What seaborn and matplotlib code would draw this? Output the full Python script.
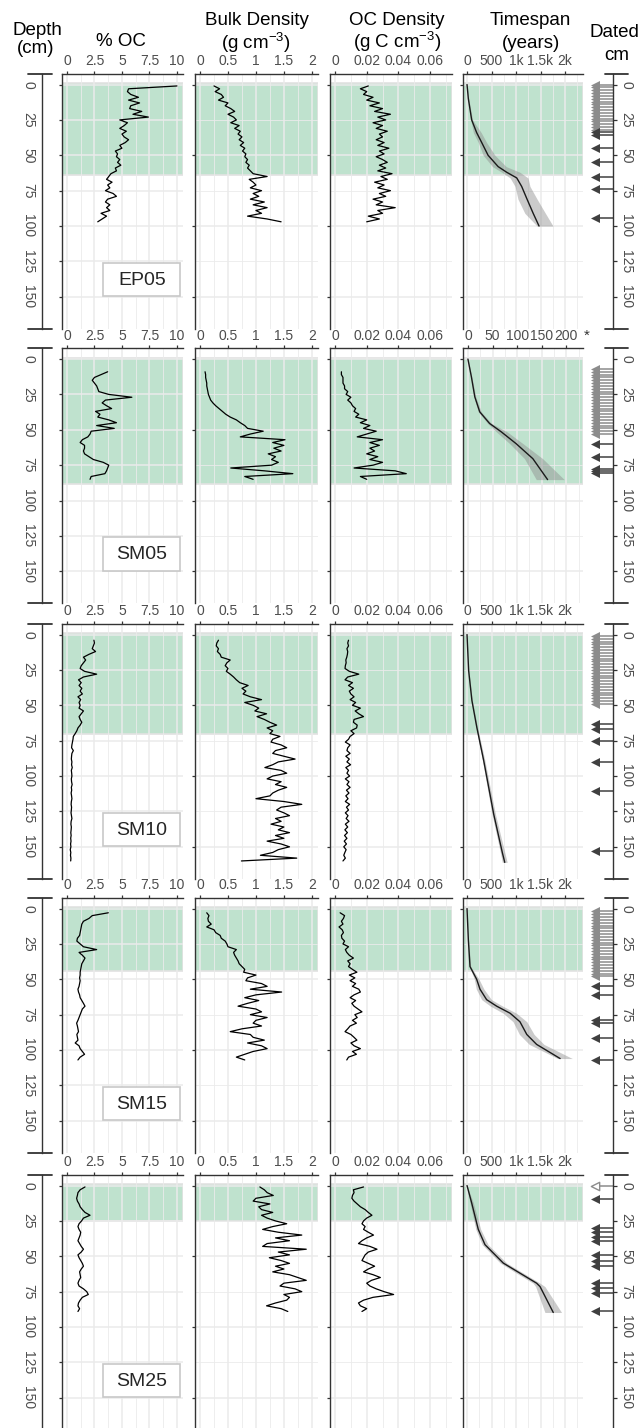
import matplotlib
matplotlib.use("Agg")
import matplotlib.pyplot as plt
from matplotlib.patches import Rectangle
import seaborn as sns

# ---------------- data ----------------
# depth sampling grids (cm)
EP05_DEPTH = list(range(1, 98, 2))
SM05_DEPTH = list(range(9, 86, 2))
SM10_DEPTH = list(range(4, 161, 2))
SM15_DEPTH = list(range(3, 108, 2))
SM25_DEPTH = list(range(1, 90, 2))

# % OC
EP05_OC = [10.0, 5.6, 5.5, 5.8, 6.5, 5.6, 6.6, 5.8, 5.7, 6.8,
           6.0, 7.4, 4.8, 5.5, 5.2, 4.8, 5.4, 5.0, 5.2, 5.6,
           5.3, 4.8, 5.0, 4.4, 4.6, 4.5, 4.8, 4.6, 4.9, 4.4,
           4.5, 4.0, 3.8, 3.6, 4.1, 3.7, 3.9, 3.5, 4.2, 4.5,
           3.7, 3.5, 3.9, 3.6, 3.9, 3.1, 3.6, 3.2, 2.8]
SM05_OC = [3.7, 3.1, 2.5, 2.3, 2.5, 2.7, 2.8, 2.9, 3.8, 5.9,
           3.5, 3.2, 3.6, 4.06, 2.6, 3.0, 2.8, 3.8, 4.5, 2.7,
           4.3, 2.2, 2.1, 1.9, 1.4, 1.2, 1.6, 1.6, 1.5, 1.6,
           2.0, 2.4, 3.3, 3.8, 3.7, 3.6, 3.45, 2.2, 2.1]
SM10_OC = [2.45, 2.5, 2.4, 2.3, 2.6, 2.0, 1.5, 1.7, 1.5, 1.3,
           1.2, 1.6, 2.7, 1.5, 1.05, 1.3, 1.1, 1.35, 1.2, 1.4,
           1.0, 1.25, 1.1, 1.2, 1.1, 1.5, 1.3, 1.1, 1.2, 1.35,
           1.2, 1.0, 0.9, 0.75, 0.58, 0.55, 0.5, 0.45, 0.42, 0.58,
           0.45, 0.42, 0.4, 0.45, 0.42, 0.48, 0.4, 0.43, 0.45, 0.4,
           0.42, 0.47, 0.4, 0.43, 0.38, 0.42, 0.45, 0.4, 0.38, 0.42,
           0.4, 0.37, 0.41, 0.45, 0.38, 0.36, 0.4, 0.38, 0.35, 0.38,
           0.34, 0.37, 0.33, 0.36, 0.3, 0.35, 0.32, 0.36, 0.34]
SM15_OC = [3.76, 2.3, 2.0, 1.5, 1.35, 1.3, 1.25, 1.2, 1.15, 0.95,
           0.9, 1.2, 1.5, 2.7, 1.1, 1.4, 1.64, 1.5, 1.35, 1.3,
           1.25, 1.2, 1.2, 1.15, 1.2, 1.15, 1.1, 1.0, 1.05, 1.15,
           1.2, 1.35, 1.5, 1.64, 1.4, 1.3, 1.2, 1.1, 1.0, 0.88,
           0.95, 1.0, 1.05, 0.9, 0.95, 1.0, 0.75, 1.1, 1.2, 1.4,
           1.6, 1.2, 1.0]
SM25_OC = [1.64, 1.2, 1.0, 0.95, 0.88, 0.95, 1.1, 1.2, 1.4, 1.64,
           2.1, 1.5, 1.33, 1.1, 1.0, 1.1, 1.25, 1.2, 1.1, 1.0,
           1.15, 1.3, 1.5, 1.3, 1.0, 1.1, 1.25, 1.4, 1.5, 1.3,
           1.15, 1.2, 1.25, 1.1, 1.0, 1.1, 1.5, 1.8, 1.94, 1.4,
           1.2, 1.05, 1.0, 1.15, 1.0]

# bulk density (g cm-3)
EP05_BD = [0.25, 0.35, 0.27, 0.38, 0.42, 0.33, 0.5, 0.45, 0.55, 0.62,
           0.5, 0.6, 0.65, 0.55, 0.7, 0.62, 0.72, 0.68, 0.75, 0.7,
           0.78, 0.72, 0.8, 0.76, 0.82, 0.8, 0.85, 0.82, 0.88, 0.85,
           0.9, 0.95, 1.2, 0.88, 0.95, 1.0, 0.9, 1.1, 0.95, 1.05,
           0.9, 1.15, 0.95, 1.2, 1.0, 1.1, 0.85, 1.2, 1.45]
SM05_BD = [0.09, 0.1, 0.1, 0.11, 0.12, 0.12, 0.13, 0.14, 0.15, 0.17,
           0.19, 0.23, 0.28, 0.34, 0.4, 0.46, 0.54, 0.65, 0.72, 0.8,
           0.85, 1.13, 0.9, 0.72, 1.52, 1.3, 1.5, 1.32, 1.45, 1.22,
           1.35, 1.28, 1.4, 1.28, 0.55, 1.15, 1.66, 0.8, 0.95]
SM10_BD = [0.33, 0.3, 0.29, 0.33, 0.31, 0.36, 0.38, 0.54, 0.48, 0.45,
           0.5, 0.47, 0.54, 0.6, 0.65, 0.71, 0.86, 0.75, 0.82, 0.77,
           0.9, 1.1, 0.8, 0.95, 1.05, 0.98, 1.19, 1.02, 1.15, 1.25,
           1.37, 1.2, 1.3, 1.25, 1.43, 1.3, 1.27, 1.45, 1.55, 1.35,
           1.3, 1.5, 1.7, 1.4, 1.3, 1.16, 1.45, 1.55, 1.3, 1.2,
           1.45, 1.35, 1.55, 1.4, 1.3, 1.25, 1.0, 1.5, 1.82, 1.45,
           1.37, 1.5, 1.6, 1.35, 1.45, 1.27, 1.5, 1.4, 1.6, 1.35,
           1.5, 1.2, 1.45, 1.6, 1.4, 1.3, 1.08, 1.73, 0.74]
SM15_BD = [0.12, 0.16, 0.14, 0.15, 0.2, 0.12, 0.25, 0.28, 0.36, 0.38,
           0.45, 0.48, 0.5, 0.65, 0.6, 0.62, 0.65, 0.68, 0.7, 0.75,
           0.8, 0.78, 1.0, 0.85, 0.82, 1.1, 1.2, 0.9, 1.46, 1.0,
           0.8, 1.05, 0.85, 0.68, 1.0, 1.1, 0.9, 1.2, 1.0, 0.95,
           1.1, 0.75, 0.54, 0.9, 0.95, 1.15, 0.85, 1.1, 1.2, 0.95,
           0.8, 0.65, 0.8]
SM25_BD = [1.07, 1.15, 1.2, 1.31, 1.0, 0.95, 1.25, 1.05, 1.1, 1.3,
           1.1, 1.2, 1.35, 1.55, 1.3, 1.12, 1.4, 1.82, 1.35, 1.6,
           1.2, 1.12, 1.9, 1.4, 1.6, 1.24, 1.45, 1.6, 1.35, 1.5,
           1.3, 1.6, 1.75, 1.9, 1.5, 1.43, 1.7, 1.82, 1.5, 1.6,
           1.55, 1.35, 1.19, 1.45, 1.57]

# OC density (g C cm-3)
EP05_OCD = [0.021, 0.016, 0.02, 0.018, 0.024, 0.02, 0.028, 0.022, 0.03, 0.025,
            0.035, 0.027, 0.032, 0.024, 0.03, 0.026, 0.033, 0.028, 0.03, 0.026,
            0.031, 0.027, 0.034, 0.028, 0.031, 0.026, 0.03, 0.033, 0.028, 0.032,
            0.027, 0.036, 0.029, 0.033, 0.025, 0.031, 0.027, 0.035, 0.028, 0.032,
            0.024, 0.03, 0.026, 0.038, 0.027, 0.03, 0.021, 0.028, 0.02]
SM05_OCD = [0.004, 0.004, 0.005, 0.005, 0.005, 0.006, 0.006, 0.008, 0.007, 0.01,
            0.008, 0.01, 0.011, 0.013, 0.012, 0.015, 0.013, 0.02, 0.016, 0.022,
            0.018, 0.026, 0.02, 0.014, 0.03, 0.022, 0.028, 0.022, 0.025, 0.02,
            0.027, 0.022, 0.03, 0.024, 0.012, 0.038, 0.045, 0.016, 0.02]
SM10_OCD = [0.0085, 0.008, 0.0085, 0.0075, 0.008, 0.0078, 0.0074, 0.0068, 0.007, 0.0065,
            0.0063, 0.009, 0.015, 0.008, 0.0063, 0.011, 0.0085, 0.0116, 0.009, 0.01,
            0.012, 0.0095, 0.013, 0.011, 0.016, 0.0127, 0.015, 0.018, 0.012, 0.0116,
            0.014, 0.0136, 0.01, 0.012, 0.0095, 0.0085, 0.0065, 0.0095, 0.008, 0.0075,
            0.0095, 0.0068, 0.009, 0.0075, 0.0098, 0.0068, 0.0085, 0.0075, 0.0092, 0.0065,
            0.0088, 0.0075, 0.0095, 0.0072, 0.0088, 0.0068, 0.0082, 0.0065, 0.0092, 0.0072,
            0.0085, 0.0065, 0.0082, 0.007, 0.0088, 0.0065, 0.008, 0.0062, 0.0078, 0.006,
            0.0075, 0.0058, 0.0072, 0.0055, 0.007, 0.0062, 0.0055, 0.0065, 0.005]
SM15_OCD = [0.0032, 0.006, 0.0053, 0.004, 0.005, 0.0025, 0.0045, 0.0053, 0.004, 0.0043,
            0.006, 0.005, 0.0085, 0.0065, 0.0074, 0.009, 0.0116, 0.008, 0.0095, 0.0085,
            0.011, 0.0138, 0.009, 0.0125, 0.0095, 0.013, 0.011, 0.015, 0.016, 0.012,
            0.0095, 0.013, 0.0106, 0.012, 0.0145, 0.017, 0.0125, 0.014, 0.011, 0.0135,
            0.0095, 0.008, 0.0063, 0.01, 0.012, 0.0138, 0.01, 0.012, 0.016, 0.011,
            0.0135, 0.0085, 0.0074]
SM25_OCD = [0.018, 0.0116, 0.012, 0.011, 0.0106, 0.012, 0.014, 0.016, 0.019, 0.021,
            0.0233, 0.02, 0.018, 0.017, 0.019, 0.018, 0.021, 0.0243, 0.02, 0.017,
            0.0148, 0.022, 0.0265, 0.021, 0.019, 0.018, 0.017, 0.021, 0.025, 0.021,
            0.018, 0.024, 0.0286, 0.023, 0.02, 0.022, 0.026, 0.031, 0.037, 0.024,
            0.018, 0.0148, 0.016, 0.02, 0.017]

# age-depth models: depth (cm), median age and range (years)
EP05_AGE_DEPTH = [0, 10, 25, 34, 41, 50, 58, 62, 66, 72, 81, 91, 100]
EP05_AGE = [0, 27, 95, 197, 300, 430, 635, 810, 1015, 1115, 1225, 1350, 1470]
EP05_AGE_LO = [0, 20, 75, 130, 230, 330, 520, 710, 880, 980, 1040, 1180, 1430]
EP05_AGE_HI = [0, 35, 115, 290, 400, 570, 800, 1080, 1245, 1285, 1430, 1600, 1755]
SM05_AGE_DEPTH = [0, 12.5, 26.7, 37.3, 45.5, 51.5, 59.8, 70.4, 85.2]
SM05_AGE = [0, 7, 14, 24, 44, 68, 98, 132, 162]
SM05_AGE_LO = [0, 6, 12, 21, 40, 58, 85, 115, 139]
SM05_AGE_HI = [0, 8, 16, 27, 48, 80, 112, 152, 196]
SM10_AGE_DEPTH = [0, 25.5, 46.7, 65.6, 89, 127, 154, 161]
SM10_AGE = [0, 33, 100, 200, 340, 545, 720, 770]
SM10_AGE_LO = [0, 28, 90, 185, 315, 510, 680, 720]
SM10_AGE_HI = [0, 38, 110, 215, 365, 580, 770, 820]
SM15_AGE_DEPTH = [0, 22, 41, 50, 57, 64.4, 69, 74, 80, 89, 96, 106]
SM15_AGE = [0, 27, 61, 197, 265, 400, 605, 880, 1080, 1220, 1420, 1900]
SM15_AGE_LO = [0, 22, 50, 150, 190, 300, 480, 740, 940, 1070, 1270, 1850]
SM15_AGE_HI = [0, 32, 75, 245, 345, 500, 730, 1010, 1220, 1370, 1570, 2150]
SM25_AGE_DEPTH = [0, 12.3, 31, 41.8, 54.8, 61.9, 69, 71.4, 89.7]
SM25_AGE = [0, 95, 230, 367, 740, 1080, 1420, 1490, 1760]
SM25_AGE_LO = [0, 60, 180, 310, 680, 1010, 1350, 1400, 1590]
SM25_AGE_HI = [0, 130, 280, 430, 810, 1150, 1490, 1590, 1930]

# dated horizons (cm)
EP05_DATED_GRAY = [0, 2, 4, 6, 8, 10, 12, 14, 16, 18, 20, 22, 24, 26, 28, 30, 32]
EP05_DATED_BLACK = [33.5, 35.5, 45, 54.5, 65, 74, 94]
SM05_DATED_GRAY = [7, 9, 11, 13, 15, 17, 19, 21, 23, 25, 27, 29, 31, 33, 35, 37,
                   39, 41, 43, 45, 47, 49, 51, 53]
SM05_DATED_BLACK = [59.8, 69, 77.5, 79, 80.5]
SM10_DATED_GRAY = [1, 3, 5, 7, 9, 11, 13, 15, 17, 19, 21, 23, 25, 27, 29, 31, 33,
                   35, 37, 39, 41, 43, 45, 47, 49]
SM10_DATED_BLACK = [63, 67, 75, 90.4, 110.5, 153]
SM15_DATED_GRAY = [2, 4, 6, 8, 10, 12, 14, 16, 18, 20, 22, 24, 26, 28, 30, 32, 34,
                   36, 38, 40, 42, 44, 46, 48]
SM15_DATED_BLACK = [55, 61, 78.6, 81, 91.6, 107]
SM25_DATED_HOLLOW = [0]
SM25_DATED_BLACK = [9.2, 30, 33, 36.3, 39.4, 48.9, 53.6, 57, 69, 72.5, 76, 89]

# depth of the shaded (green) interval
EP05_SHADE = 63.7
SM05_SHADE = 88
SM10_SHADE = 70
SM15_SHADE = 44.4
SM25_SHADE = 25.3

CORES = [
    dict(name="EP05", depth=EP05_DEPTH, oc=EP05_OC, bd=EP05_BD, ocd=EP05_OCD, shade=EP05_SHADE,
         ad=EP05_AGE_DEPTH, age=EP05_AGE, lo=EP05_AGE_LO, hi=EP05_AGE_HI,
         gray=EP05_DATED_GRAY, black=EP05_DATED_BLACK, hollow=[], short=False),
    dict(name="SM05", depth=SM05_DEPTH, oc=SM05_OC, bd=SM05_BD, ocd=SM05_OCD, shade=SM05_SHADE,
         ad=SM05_AGE_DEPTH, age=SM05_AGE, lo=SM05_AGE_LO, hi=SM05_AGE_HI,
         gray=SM05_DATED_GRAY, black=SM05_DATED_BLACK, hollow=[], short=True),
    dict(name="SM10", depth=SM10_DEPTH, oc=SM10_OC, bd=SM10_BD, ocd=SM10_OCD, shade=SM10_SHADE,
         ad=SM10_AGE_DEPTH, age=SM10_AGE, lo=SM10_AGE_LO, hi=SM10_AGE_HI,
         gray=SM10_DATED_GRAY, black=SM10_DATED_BLACK, hollow=[], short=False),
    dict(name="SM15", depth=SM15_DEPTH, oc=SM15_OC, bd=SM15_BD, ocd=SM15_OCD, shade=SM15_SHADE,
         ad=SM15_AGE_DEPTH, age=SM15_AGE, lo=SM15_AGE_LO, hi=SM15_AGE_HI,
         gray=SM15_DATED_GRAY, black=SM15_DATED_BLACK, hollow=[], short=False),
    dict(name="SM25", depth=SM25_DEPTH, oc=SM25_OC, bd=SM25_BD, ocd=SM25_OCD, shade=SM25_SHADE,
         ad=SM25_AGE_DEPTH, age=SM25_AGE, lo=SM25_AGE_LO, hi=SM25_AGE_HI,
         gray=[], black=SM25_DATED_BLACK, hollow=SM25_DATED_HOLLOW, short=False),
]

# ---------------- layout ----------------
W, H = 643, 1428
ROW_TOPS = [73.5, 348, 623.5, 897.5, 1174.5]
PANEL_H = 255
YLIM = (172.4, -7.8)
COLS = [(62, 183), (195, 318), (330, 452), (463, 583)]
DARK = "#333333"
TICKC = "#4D4D4D"
GRIDC = "#EBEBEB"


def fig_box(x0, y0, x1, y1):
    return [x0 / W, 1 - y1 / H, (x1 - x0) / W, (y1 - y0) / H]


def style_panel(ax, xlim, major, labels, minor, ystep):
    ax.set_xlim(xlim)
    ax.set_ylim(YLIM)
    ax.set_xlabel("")
    ax.set_ylabel("")
    ax.set_xticks(major, labels)
    ax.set_xticks(minor, minor=True)
    ax.set_yticks(list(range(0, 151, ystep)))
    if ystep == 50:
        ax.set_yticks([25, 75, 125], minor=True)
    ax.xaxis.tick_top()
    ax.tick_params(axis="x", which="major", top=True, bottom=False, labeltop=True,
                   labelbottom=False, length=2.5, width=0.9, pad=1.2, color=DARK,
                   labelcolor=TICKC, labelsize=10)
    ax.tick_params(axis="y", which="major", left=True, labelleft=False, length=2.5,
                   width=0.9, color=DARK)
    ax.tick_params(which="minor", length=0)
    ax.grid(which="major", color=GRIDC, lw=1.1)
    ax.grid(which="minor", color=GRIDC, lw=0.6)
    ax.set_axisbelow(True)
    for s in ["right", "bottom"]:
        ax.spines[s].set_visible(False)
    for s in ["top", "left"]:
        ax.spines[s].set_color(DARK)
        ax.spines[s].set_linewidth(1.0)


def shade(ax, xlim, bottom):
    ax.add_patch(Rectangle((xlim[0], -1), xlim[1] - xlim[0], bottom + 1,
                           facecolor="#2ca25f", alpha=0.3, edgecolor="none", zorder=0.2))
    ax.add_patch(Rectangle((xlim[0], -1), xlim[1] - xlim[0], bottom + 1,
                           facecolor="none", edgecolor="#E2E2E2", lw=1.2, zorder=0.25))


def main():
    sns.set_style("white")
    plt.rcParams["font.family"] = ["Liberation Sans", "DejaVu Sans"]
    plt.rcParams["mathtext.fontset"] = "custom"
    plt.rcParams["mathtext.rm"] = "Liberation Sans"

    fig = plt.figure(figsize=(W / 100, H / 100), dpi=100)

    # column headers
    def head(x, y, s):
        fig.text(x / W, 1 - y / H, s, ha="center", va="baseline", fontsize=13.5, color="black")
    head(37, 35, "Depth")
    head(36, 53, "(cm)")
    head(121, 46, "% OC")
    head(257, 25, "Bulk Density")
    head(256, 49, r"(g cm$^{\mathrm{-3}}$)")
    head(397, 25, "OC Density")
    head(397, 48, r"(g C cm$^{\mathrm{-3}}$)")
    head(530, 25, "Timespan")
    head(531, 48, "(years)")
    head(614, 37, "Dated")
    head(617, 60, "cm")

    for i, c in enumerate(CORES):
        top = ROW_TOPS[i]
        bot = top + PANEL_H

        # ---- depth axis on the left
        ax_d = fig.add_axes(fig_box(42, top, 52, bot))
        ax_d.set_xlim(0, 1)
        ax_d.set_ylim(YLIM)
        ax_d.set_xticks([])
        ax_d.set_yticks(list(range(0, 151, 25)))
        ax_d.tick_params(axis="y", length=0, pad=5, labelsize=10, labelcolor=TICKC,
                         labelrotation=-90)
        for lab in ax_d.get_yticklabels():
            lab.set_va("center")
        for s in ["top", "right", "bottom"]:
            ax_d.spines[s].set_visible(False)
        ax_d.spines["left"].set_color(DARK)
        ax_d.spines["left"].set_linewidth(1.0)
        ax_d.patch.set_alpha(0)
        tr = ax_d.get_yaxis_transform()
        for yb in YLIM:
            ax_d.plot([-1.4, 1.0], [yb, yb], color=DARK, lw=1.3, transform=tr, clip_on=False)

        # ---- four data panels
        axs = [fig.add_axes(fig_box(x0, top, x1, bot)) for x0, x1 in COLS]
        d = c["depth"]

        ax = axs[0]
        xl = (-0.45, 10.55)
        shade(ax, xl, c["shade"])
        sns.lineplot(x=c["oc"], y=d, orient="y", estimator=None, color="black", lw=0.9, ax=ax)
        style_panel(ax, xl, [0, 2.5, 5, 7.5, 10], ["0", "2.5", "5", "7.5", "10"],
                    [1.25, 3.75, 6.25, 8.75], 25)
        ax.add_patch(Rectangle((3.3, 126), 7.0, 23.5, facecolor="white", edgecolor="#C8C8C8",
                               lw=1.2, zorder=3))
        ax.text(6.8, 138.2, c["name"], ha="center", va="center", fontsize=14, zorder=4)

        ax = axs[1]
        xl = (-0.09, 2.11)
        shade(ax, xl, c["shade"])
        sns.lineplot(x=c["bd"], y=d, orient="y", estimator=None, color="black", lw=0.9, ax=ax)
        style_panel(ax, xl, [0, 0.5, 1, 1.5, 2], ["0", "0.5", "1", "1.5", "2"],
                    [0.25, 0.75, 1.25, 1.75], 50)

        ax = axs[2]
        xl = (-0.0032, 0.0739)
        shade(ax, xl, c["shade"])
        sns.lineplot(x=c["ocd"], y=d, orient="y", estimator=None, color="black", lw=0.9, ax=ax)
        style_panel(ax, xl, [0, 0.02, 0.04, 0.06], ["0", "0.02", "0.04", "0.06"],
                    [0.01, 0.03, 0.05, 0.07], 50)

        ax = axs[3]
        if c["short"]:
            xl = (-10, 234)
            major, labels, minor = [0, 50, 100, 150, 200], ["0", "50", "100", "150", "200"], \
                [25, 75, 125, 175, 225]
        else:
            xl = (-82, 2367)
            major, labels, minor = [0, 500, 1000, 1500, 2000], ["0", "500", "1k", "1.5k", "2k"], \
                [250, 750, 1250, 1750, 2250]
        shade(ax, xl, c["shade"])
        ax.fill_betweenx(c["ad"], c["lo"], c["hi"], color="#8C8C8C", alpha=0.45, lw=0, zorder=2)
        sns.lineplot(x=c["age"], y=c["ad"], orient="y", estimator=None, color="#1a1a1a",
                     lw=1.0, ax=ax)
        style_panel(ax, xl, major, labels, minor, 50)
        if c["short"]:
            fig.text(587 / W, 1 - 336 / H, "*", ha="center", va="center", fontsize=11,
                     color=DARK)

        # ---- dated horizons on the right
        ax_r = fig.add_axes(fig_box(588, top, 613, bot))
        ax_r.set_xlim(0, 1)
        ax_r.set_ylim(YLIM)
        ax_r.set_xticks([])
        ax_r.yaxis.tick_right()
        ax_r.set_yticks(list(range(0, 151, 25)))
        ax_r.tick_params(axis="y", right=True, left=False, labelright=True, labelleft=False,
                         length=3, width=0.9, color=DARK, pad=1.5, labelsize=10,
                         labelcolor=TICKC, labelrotation=-90)
        for lab in ax_r.get_yticklabels():
            lab.set_va("center")
        for s in ["top", "left", "bottom"]:
            ax_r.spines[s].set_visible(False)
        ax_r.spines["right"].set_color(DARK)
        ax_r.spines["right"].set_linewidth(1.0)
        ax_r.patch.set_alpha(0)
        tr = ax_r.get_yaxis_transform()
        for yb in YLIM:
            ax_r.plot([0.68, 1.6], [yb, yb], color=DARK, lw=1.3, transform=tr, clip_on=False)

        for depths, col in [(c["gray"], "#8C8C8C"), (c["black"], "#404040")]:
            if depths:
                ax_r.hlines(depths, 0.25, 1.0, color=col, lw=1.1)
                ax_r.scatter([0.26] * len(depths), depths, marker="<", s=42, color=col,
                             linewidths=0, zorder=3)
        if c["hollow"]:
            ax_r.hlines(c["hollow"], 0.35, 1.0, color="#8C8C8C", lw=1.1)
            ax_r.scatter([0.26] * len(c["hollow"]), c["hollow"], marker="<", s=36,
                         facecolor="white", edgecolor="#8C8C8C", linewidths=1.0, zorder=3)

    fig.savefig("out.png", dpi=100)


if __name__ == "__main__":
    main()
